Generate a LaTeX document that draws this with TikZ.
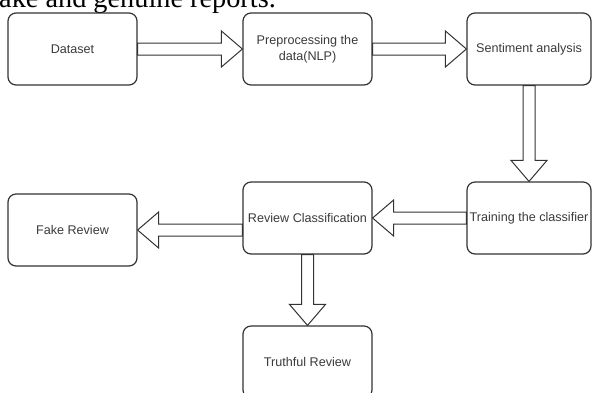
\documentclass[tikz,border=0pt]{standalone}
\usepackage{fontspec}
\setmainfont{Liberation Serif}
\setsansfont{Liberation Sans}
\usetikzlibrary{calc}

\definecolor{strek}{HTML}{333333}
\definecolor{tekst}{HTML}{3A3A3A}

\tikzset{
  boks/.style={draw=strek, line width=1.2pt, rounded corners=8pt,
    minimum width=129pt, minimum height=72pt, inner sep=1pt, align=center,
    font=\sffamily\fontsize{12.6}{16.5}\selectfont, text=tekst},
  tykkpil/.style={draw=strek, fill=white, line width=1pt, line join=miter,
    to path={let \p1=(\tikztostart), \p2=(\tikztotarget),
      \n1={veclen(\x2-\x1,\y2-\y1)}, \n2={atan2(\y2-\y1,\x2-\x1)} in
      {[shift={(\p1)}, rotate=\n2]
      (0pt,6pt) -- (\n1-21pt,6pt) -- (\n1-21pt,18pt) -- (\n1,0pt)
      -- (\n1-21pt,-18pt) -- (\n1-21pt,-6pt) -- (0pt,-6pt) -- cycle}}}
}

\begin{document}
\begin{tikzpicture}[x=1pt,y=-1pt]
  \useasboundingbox (0,0) rectangle (593,392);
  \clip (0,0) rectangle (593,392);

  % Teksten over figuren
  \node[anchor=base west, inner sep=0pt, font=\fontsize{28.3}{30}\selectfont] (topptekst) at (-1,7) {ake and genuine reports.};

  % Boksene
  \node[boks] (dataset) at (72.5,49) {Dataset};
  \node[boks] (preproc) at (307.5,49) {Preprocessing the\\data(NLP)};
  \node[boks, minimum width=124pt] (sentiment) at (529,49) {Sentiment analysis};
  \node[boks, minimum width=124pt] (training) at (529,218) {Training the classifier};
  \node[boks] (review) at (307.5,218) {Review Classification};
  \node[boks] (fake) at (72.5,230) {Fake Review};
  \node[boks] (truthful) at (307.5,362) {Truthful Review};

  % Pilene
  \draw[tykkpil] (dataset.east) to (preproc.west);
  \draw[tykkpil] (preproc.east) to (sentiment.west);
  \draw[tykkpil] (sentiment.south) to (training.north);
  \draw[tykkpil] (training.west) to (review.east);
  \draw[tykkpil] (review.west |- fake.east) to (fake.east);
  \draw[tykkpil] (review.south) to (truthful.north);
\end{tikzpicture}
\end{document}
